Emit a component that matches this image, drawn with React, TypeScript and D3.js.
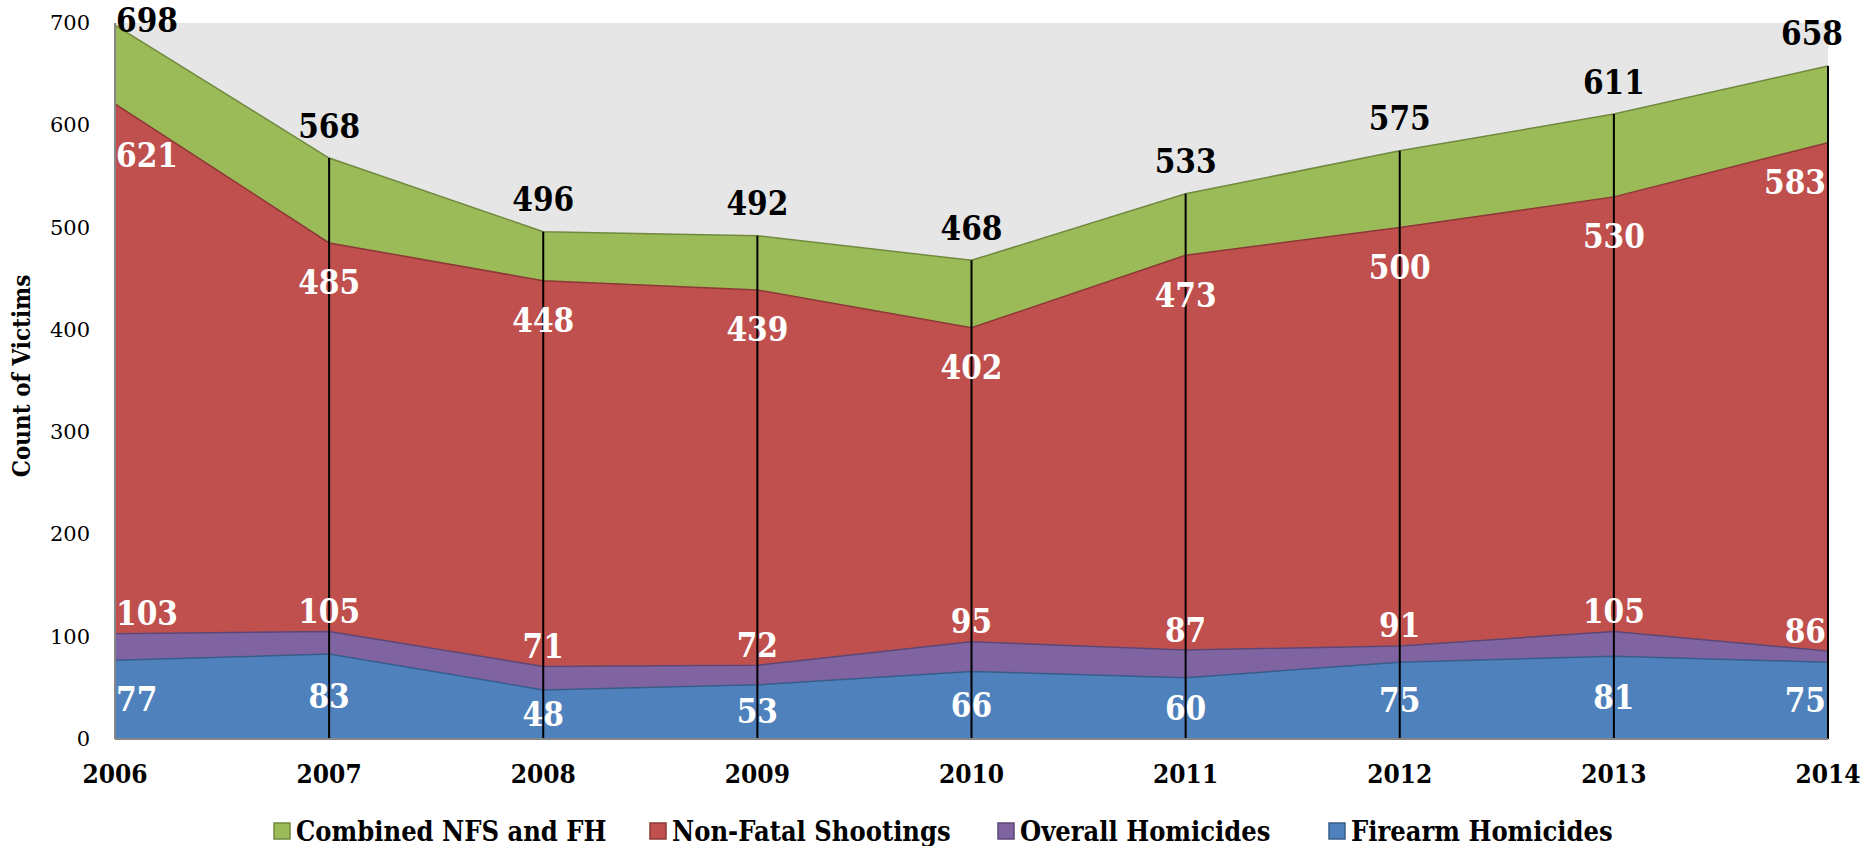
import React from "react";
import * as d3 from "d3";

const years = [2006, 2007, 2008, 2009, 2010, 2011, 2012, 2013, 2014];
const combined = [698, 568, 496, 492, 468, 533, 575, 611, 658];
const nonFatal = [621, 485, 448, 439, 402, 473, 500, 530, 583];
const overallHom = [103, 105, 71, 72, 95, 87, 91, 105, 86];
const firearmHom = [77, 83, 48, 53, 66, 60, 75, 81, 75];
const yTicks = [0, 100, 200, 300, 400, 500, 600, 700];

const legendNames = ["Combined NFS and FH", "Non-Fatal Shootings", "Overall Homicides", "Firearm Homicides"];

const W = 1866, H = 846;
const left = 115, right = 1828, top = 23, bottom = 739;

const BOLD = "'DejaVu Serif Condensed', 'DejaVu Serif', serif";
const REG = "'DejaVu Serif', serif";

export default function App() {
  const x = d3.scalePoint<number>().domain(years).range([left, right]);
  const y = d3.scaleLinear().domain([0, 700]).range([bottom, top]);

  const series = [
    { name: legendNames[0], vals: combined, fill: "#9BBB59", stroke: "#71893F" },
    { name: legendNames[1], vals: nonFatal, fill: "#C0504D", stroke: "#8C3836" },
    { name: legendNames[2], vals: overallHom, fill: "#8064A2", stroke: "#5C4776" },
    { name: legendNames[3], vals: firearmHom, fill: "#4F81BD", stroke: "#385D8A" },
  ];

  const area = (vals: number[]) =>
    d3.area<number>().x((_, i) => x(years[i])!).y0(y(0)).y1((d) => y(d))(vals) || "";
  const line = (vals: number[]) =>
    d3.line<number>().x((_, i) => x(years[i])!).y((d) => y(d))(vals) || "";

  const anchorFor = (i: number) => (i === 0 ? "start" : i === years.length - 1 ? "end" : "middle");
  const labelX = (i: number, isTop = false) =>
    i === 0 ? left + 1 : i === years.length - 1 ? (isTop ? right + 15 : right - 2) : x(years[i])!;

  const legendX = [274, 650, 998, 1329];

  return (
    <svg width={W} height={H} style={{ display: "block", position: "absolute", left: 0, top: 0 }}>
      <rect x={0} y={0} width={W} height={H} fill="#fff" />
      <rect x={left} y={top} width={right - left} height={bottom - top} fill="#E6E6E6" />
      {series.map((s) => (
        <g key={s.name}>
          <path d={area(s.vals)} fill={s.fill} />
          <path d={line(s.vals)} fill="none" stroke={s.stroke} strokeWidth={1.5} />
        </g>
      ))}
      {years.map((yr, i) => (
        <line key={yr} x1={x(yr)} x2={x(yr)} y1={y(combined[i])} y2={bottom} stroke="#000" strokeWidth={2} />
      ))}
      <line x1={left} x2={left} y1={top} y2={bottom} stroke="#868686" strokeWidth={2} />
      <line x1={left} x2={right} y1={bottom} y2={bottom} stroke="#868686" strokeWidth={2} />

      {yTicks.map((t) => (
        <text key={t} x={90} y={y(t)} textAnchor="end" dominantBaseline="central" fontFamily={REG} fontSize={21} fill="#000">
          {t}
        </text>
      ))}
      <text
        transform={`translate(21, 376) rotate(-90)`}
        textAnchor="middle"
        dominantBaseline="central"
        fontFamily={BOLD}
        fontWeight="bold"
        fontSize={24}
      >
        Count of Victims
      </text>
      {years.map((yr) => (
        <text key={yr} x={x(yr)} y={774} textAnchor="middle" dominantBaseline="central" fontFamily={BOLD} fontWeight="bold" fontSize={26}>
          {yr}
        </text>
      ))}

      {combined.map((v, i) => (
        <text key={"c" + i} x={labelX(i, true)} y={Math.max(y(v) - 32, 20)} textAnchor={anchorFor(i)} dominantBaseline="central" fontFamily={BOLD} fontWeight="bold" fontSize={33} fill="#000">
          {v}
        </text>
      ))}
      {nonFatal.map((v, i) => (
        <text key={"n" + i} x={labelX(i)} y={y(v) + (i === 0 ? 52 : 40)} textAnchor={anchorFor(i)} dominantBaseline="central" fontFamily={BOLD} fontWeight="bold" fontSize={33} fill="#fff">
          {v}
        </text>
      ))}
      {overallHom.map((v, i) => (
        <text key={"o" + i} x={labelX(i)} y={y(v) - 20} textAnchor={anchorFor(i)} dominantBaseline="central" fontFamily={BOLD} fontWeight="bold" fontSize={33} fill="#fff">
          {v}
        </text>
      ))}
      {firearmHom.map((v, i) => (
        <text key={"f" + i} x={labelX(i)} y={y(v / 2)} textAnchor={anchorFor(i)} dominantBaseline="central" fontFamily={BOLD} fontWeight="bold" fontSize={33} fill="#fff">
          {v}
        </text>
      ))}

      {series.map((s, i) => (
        <g key={"lg" + i} transform={`translate(${legendX[i]}, 831)`}>
          <rect x={0} y={-8} width={16} height={16} fill={s.fill} stroke={s.stroke} strokeWidth={1.5} />
          <text x={22} y={0} dominantBaseline="central" fontFamily={BOLD} fontWeight="bold" fontSize={27}>
            {s.name}
          </text>
        </g>
      ))}
    </svg>
  );
}
